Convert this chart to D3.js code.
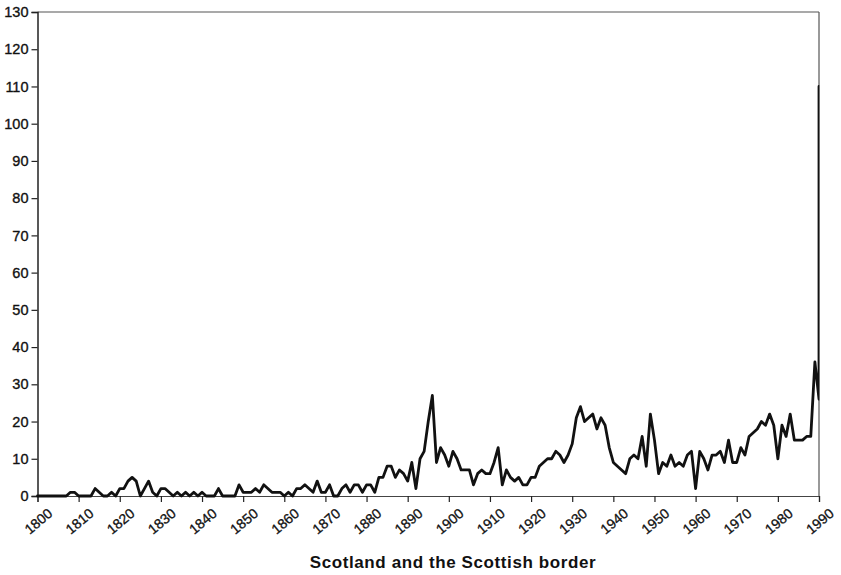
<!DOCTYPE html>
<html>
<head>
<meta charset="utf-8">
<script src="https://cdn.jsdelivr.net/npm/d3@7/dist/d3.min.js"></script>
<style>
  html, body { margin: 0; padding: 0; background: #fff; }
  svg { display: block; }
  text { font-family: "Liberation Sans", Arial, Helvetica, sans-serif; }
</style>
</head>
<body>
<svg id="chart" width="841" height="575"></svg>
<script>
// ---- data ----
const startYear = 1800;
const endYear = 1990;
const values = [
  // 1800-1809
  0,0,0,0,0,0,0,0,1,1,
  // 1810-1819
  0,0,0,0,2,1,0,0,1,0,
  // 1820-1829
  2,2,4,5,4,0,2,4,1,0,
  // 1830-1839
  2,2,1,0,1,0,1,0,1,0,
  // 1840-1849
  1,0,0,0,2,0,0,0,0,3,
  // 1850-1859
  1,1,1,2,1,3,2,1,1,1,
  // 1860-1869
  0,1,0,2,2,3,2,1,4,1,
  // 1870-1879
  1,3,0,0,2,3,1,3,3,1,
  // 1880-1889
  3,3,1,5,5,8,8,5,7,6,
  // 1890-1899
  4,9,2,10,12,20,27,9,13,11,
  // 1900-1909
  8,12,10,7,7,7,3,6,7,6,
  // 1910-1919
  6,9,13,3,7,5,4,5,3,3,
  // 1920-1929
  5,5,8,9,10,10,12,11,9,11,
  // 1930-1939
  14,21,24,20,21,22,18,21,19,13,
  // 1940-1949
  9,8,7,6,10,11,10,16,8,22,
  // 1950-1959
  15,6,9,8,11,8,9,8,11,12,
  // 1960-1969
  2,12,10,7,11,11,12,9,15,9,
  // 1970-1979
  9,13,11,16,17,18,20,19,22,19,
  // 1980-1989
  10,19,16,22,15,15,15,16,16,36,
  // 1990
  26
];
// final reading drawn at the last year, rising along the right edge
const finalSpike = { year: 1990, value: 110 };
const yTicks = [0,10,20,30,40,50,60,70,80,90,100,110,120,130];
const xTicks = [1800,1810,1820,1830,1840,1850,1860,1870,1880,1890,1900,1910,1920,1930,1940,1950,1960,1970,1980,1990];
const title = "Scotland and the Scottish border";

const points = values.map((v, i) => ({ year: startYear + i, value: v }));
points.push(finalSpike);

// ---- layout ----
const svg = d3.select("#chart");
const mLeft = 37.5, mRight = 819, mTop = 12, mBottom = 496;

const x = d3.scaleLinear().domain([startYear, endYear]).range([mLeft, mRight]);
const y = d3.scaleLinear().domain([0, 130]).range([mBottom, mTop]);

svg.append("defs").append("clipPath").attr("id", "plotClip")
  .append("rect").attr("x", 0).attr("y", 0).attr("width", mRight + 0.3).attr("height", 575);

// frame (top and right)
svg.append("line").attr("x1", mLeft).attr("x2", mRight).attr("y1", mTop).attr("y2", mTop)
  .attr("stroke", "#555").attr("stroke-width", 1.2);
svg.append("line").attr("x1", mRight).attr("x2", mRight).attr("y1", mTop).attr("y2", mBottom)
  .attr("stroke", "#555").attr("stroke-width", 1.2);

// y axis
const yAxis = d3.axisLeft(y).tickValues(yTicks).tickSize(6).tickPadding(3).tickFormat(d3.format("d"));
const gy = svg.append("g").attr("transform", `translate(${mLeft},0)`).call(yAxis);
gy.select(".domain").attr("stroke", "#222").attr("stroke-width", 1.5);
gy.selectAll(".tick line").attr("stroke", "#222").attr("stroke-width", 1.2);
gy.selectAll(".tick text").attr("font-size", 14.5).attr("fill", "#111")
  .attr("stroke", "#111").attr("stroke-width", 0.35)
  .attr("font-family", "'Liberation Sans', Arial, sans-serif");

// x axis
const xAxis = d3.axisBottom(x).tickValues(xTicks).tickSize(6).tickFormat(d3.format("d"));
const gx = svg.append("g").attr("transform", `translate(0,${mBottom})`).call(xAxis);
gx.select(".domain").attr("stroke", "#444").attr("stroke-width", 1.2);
gx.selectAll(".tick line").attr("stroke", "#222").attr("stroke-width", 1.2);
gx.selectAll(".tick text")
  .attr("font-size", 14).attr("fill", "#111")
  .attr("stroke", "#111").attr("stroke-width", 0.3)
  .attr("font-family", "'Liberation Sans', Arial, sans-serif")
  .attr("text-anchor", "end")
  .attr("dy", null).attr("y", 0).attr("x", 0)
  .attr("transform", "translate(15.5,19) rotate(-40)");

// line
const line = d3.line().x(d => x(d.year)).y(d => y(d.value)).curve(d3.curveLinear);
svg.append("path").datum(points)
  .attr("d", line)
  .attr("clip-path", "url(#plotClip)")
  .attr("fill", "none")
  .attr("stroke", "#111")
  .attr("stroke-width", 2.8)
  .attr("stroke-linejoin", "round")
  .attr("stroke-linecap", "round");

// title
svg.append("text").attr("x", 453).attr("y", 568)
  .attr("text-anchor", "middle")
  .attr("font-size", 17).attr("font-weight", "bold").attr("fill", "#111")
  .attr("letter-spacing", 0.6)
  .text(title);
</script>
</body>
</html>
